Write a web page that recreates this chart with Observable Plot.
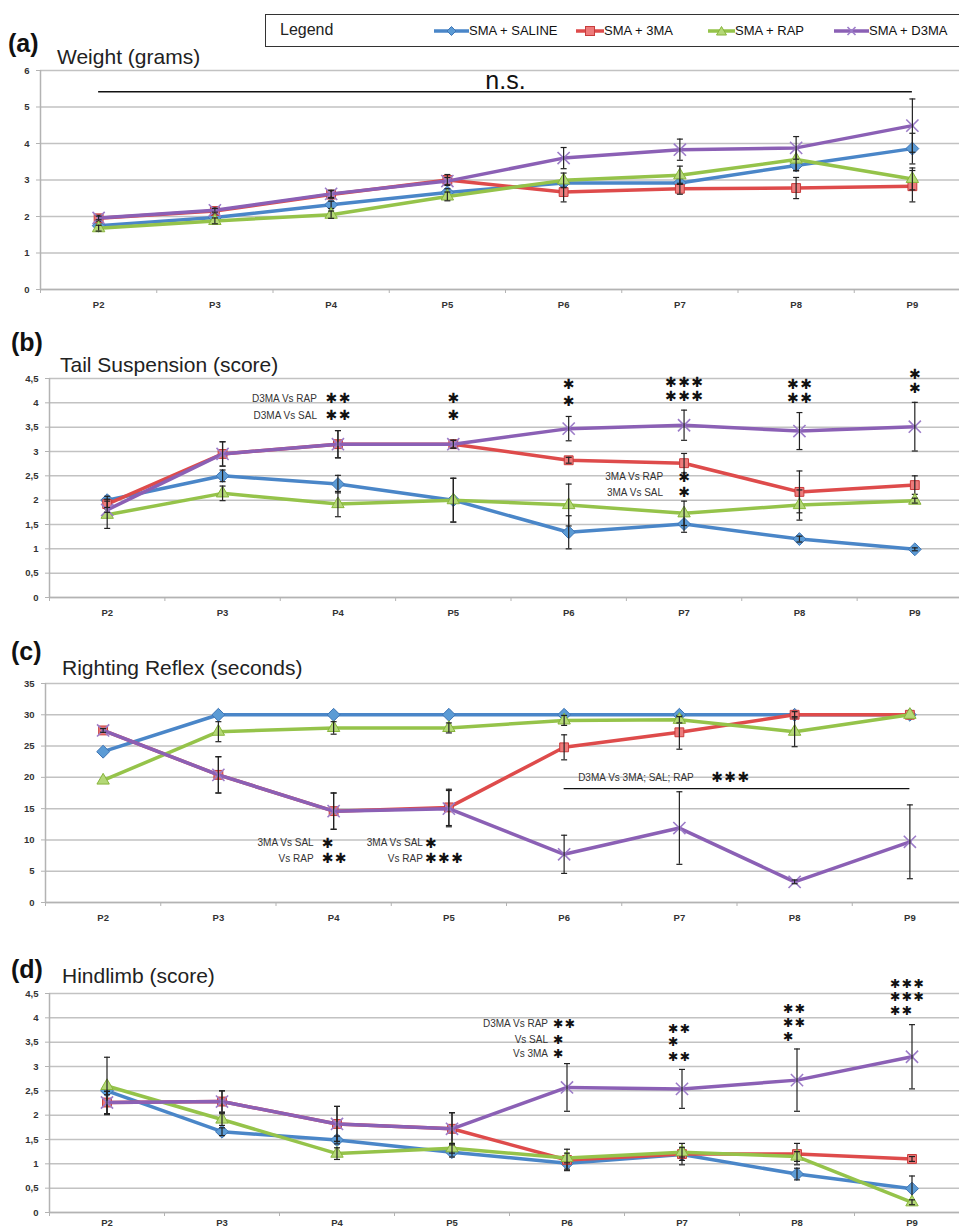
<!DOCTYPE html>
<html><head><meta charset="utf-8">
<script src="https://cdn.jsdelivr.net/npm/d3@7"></script>
<script src="https://cdn.jsdelivr.net/npm/@observablehq/plot@0.6"></script>
<style>
html,body{margin:0;padding:0;background:#fff;overflow:hidden}
#page{position:relative;width:959px;height:1232px;overflow:hidden;background:#fff;font-family:"Liberation Sans",Arial,sans-serif}
#page svg{max-width:none !important}
.pn{position:absolute;left:0}
.lab{position:absolute;font-weight:bold;font-size:25px;line-height:25px;color:#111;white-space:nowrap}
.ttl{position:absolute;font-size:21px;line-height:21px;color:#222;white-space:nowrap}
#legend{position:absolute;left:265px;top:14px;width:720px;height:33px;border:1.5px solid #333;box-sizing:border-box;background:#fff}
#legend .lt{position:absolute;left:14px;top:6px;font-size:16px;color:#222}
#legend .it{position:absolute;top:9px;font-size:13px;color:#111;white-space:nowrap;line-height:14px}
#legend svg{position:absolute;top:10px}
</style></head><body><div id="page"></div>
<script>
const days = ["P2","P3","P4","P5","P6","P7","P8","P9"];
const groupNames = ["SMA + SALINE","SMA + 3MA","SMA + RAP","SMA + D3MA"];

// (a) Weight (grams)
const weightSaline = [1.75,1.97,2.32,2.66,2.92,2.92,3.40,3.86];
const weight3MA    = [1.95,2.15,2.60,3.00,2.67,2.76,2.78,2.83];
const weightRAP    = [1.68,1.88,2.05,2.55,2.99,3.13,3.56,3.03];
const weightD3MA   = [1.96,2.17,2.62,2.97,3.60,3.83,3.88,4.49];
const weightErrSaline = [0.08,0.08,0.10,0.10,0.12,0.12,0.15,0.42];
const weightErr3MA    = [0.08,0.08,0.10,0.15,0.27,0.15,0.29,0.43];
const weightErrRAP    = [0.08,0.08,0.10,0.12,0.20,0.25,0.30,0.30];
const weightErrD3MA   = [0.05,0.05,0.10,0.10,0.29,0.29,0.31,0.73];
const weightNs = 5.42;

// (b) Tail Suspension (score)
const tailSaline = [2.00,2.50,2.33,2.00,1.34,1.51,1.20,0.99];
const tail3MA    = [1.92,2.95,3.15,3.15,2.82,2.76,2.17,2.31];
const tailRAP    = [1.70,2.14,1.92,2.00,1.90,1.73,1.90,1.99];
const tailD3MA   = [1.80,2.95,3.15,3.15,3.47,3.54,3.42,3.51];
const tailErrSaline = [0.08,0.12,0.18,0.45,0.34,0.17,0.06,0.03];
const tailErr3MA    = [0.10,0.25,0.28,0.08,0.06,0.20,0.43,0.19];
const tailErrRAP    = [0.28,0.15,0.26,0.45,0.43,0.25,0.31,0.05];
const tailErrD3MA   = [0.05,0.25,0.28,0.08,0.25,0.31,0.38,0.50];
const tailStars = [
  {day:"P4",y:4.08,t:"✱✱"},{day:"P4",y:3.73,t:"✱✱"},
  {day:"P5",y:4.08,t:"✱"},{day:"P5",y:3.73,t:"✱"},
  {day:"P6",y:4.38,t:"✱"},{day:"P6",y:4.03,t:"✱"},
  {day:"P7",y:4.42,t:"✱✱✱"},{day:"P7",y:4.13,t:"✱✱✱"},
  {day:"P8",y:4.38,t:"✱✱"},{day:"P8",y:4.08,t:"✱✱"},
  {day:"P9",y:4.59,t:"✱"},{day:"P9",y:4.29,t:"✱"},
  {day:"P7",y:2.47,t:"✱"},{day:"P7",y:2.15,t:"✱"}
];
const tailLabels = [
  {day:"P4",y:4.08,t:"D3MA Vs RAP"},{day:"P4",y:3.73,t:"D3MA Vs SAL"},
  {day:"P7",y:2.47,t:"3MA Vs RAP"},{day:"P7",y:2.15,t:"3MA Vs SAL"}
];

// (c) Righting Reflex (seconds)
const rightSaline = [24.1,30,30,30,30,30,30,30];
const right3MA    = [27.5,20.4,14.6,15.2,24.8,27.2,30,30];
const rightRAP    = [19.5,27.3,27.9,27.9,29.1,29.2,27.3,30];
const rightD3MA   = [27.5,20.4,14.6,15.0,7.7,11.9,3.3,9.7];
const rightErrSaline = [0,0,0,0,0,0,0,0];
const rightErr3MA    = [0.3,2.9,2.9,2.9,2.0,2.7,0.5,0];
const rightErrRAP    = [0,1.6,1.0,0.8,0.8,0.5,2.4,0];
const rightErrD3MA   = [0.3,2.9,2.9,2.9,3.05,5.8,0.3,5.9];
const rightP4Labels = [{day:"P4",y:9.5,t:"3MA Vs SAL"},{day:"P4",y:7,t:"Vs RAP"}];
const rightP4Stars  = [{day:"P4",y:9.5,t:"✱"},{day:"P4",y:7,t:"✱✱"}];
const rightP5Labels = [{day:"P5",y:9.5,t:"3MA Vs SAL"},{day:"P5",y:7,t:"Vs RAP"}];
const rightP5Stars  = [{day:"P5",y:9.5,t:"✱"},{day:"P5",y:7,t:"✱✱✱"}];
const rightSpan = {from:"P6",to:"P9",y:18.2,label:"D3MA Vs 3MA; SAL; RAP",labelY:20,stars:"✱✱✱"};

// (d) Hindlimb (score)
const hindSaline = [2.50,1.66,1.49,1.24,1.01,1.19,0.79,0.49];
const hind3MA    = [2.26,2.28,1.82,1.72,1.08,1.20,1.20,1.10];
const hindRAP    = [2.60,1.91,1.21,1.32,1.12,1.24,1.15,0.21];
const hindD3MA   = [2.26,2.28,1.82,1.72,2.57,2.54,2.72,3.20];
const hindErrSaline = [0.08,0.08,0.08,0.10,0.12,0.12,0.12,0.26];
const hindErr3MA    = [0.23,0.22,0.36,0.33,0.22,0.22,0.22,0.05];
const hindErrRAP    = [0.59,0.12,0.12,0.10,0.10,0.10,0.10,0.05];
const hindErrD3MA   = [0.23,0.22,0.36,0.33,0.49,0.40,0.64,0.66];
const hindLabels = [{day:"P6",y:3.87,t:"D3MA Vs RAP"},{day:"P6",y:3.55,t:"Vs SAL"},{day:"P6",y:3.26,t:"Vs 3MA"}];
const hindStars = [
  {day:"P6",y:3.87,t:"✱✱"},{day:"P6",y:3.55,t:"✱"},{day:"P6",y:3.26,t:"✱"},
  {day:"P7",y:3.77,t:"✱✱"},{day:"P7",y:3.50,t:"✱"},{day:"P7",y:3.20,t:"✱✱"},
  {day:"P8",y:4.18,t:"✱✱"},{day:"P8",y:3.90,t:"✱✱"},{day:"P8",y:3.61,t:"✱"}
];
const hindStarsP9 = [{day:"P9",y:4.69,t:"✱✱✱"},{day:"P9",y:4.42,t:"✱✱✱"},{day:"P9",y:4.15,t:"✱✱"}];

// styles
const lineColors = ["#4a86c8","#de4b4b","#95c34a","#8b60b5"];
const markFill = ["#5b9bd5","#ee7b7b","#b4d877","none"];
const markStroke = ["#3f75b5","#c83c3c","#88b53c","#9c7cc8"];
const markSymbol = ["diamond2","square","triangle","times"];
const markR = [5.8,5,4.6,5.6];

const idx = d => days.indexOf(d);
const capSymbol = {draw(ctx, size){ const r = Math.sqrt(size/Math.PI); ctx.moveTo(-r,0); ctx.lineTo(r,0); }};
const commaFmt = d => String(d).replace(".", ",");
const star = s => s.split("").join("\u200A");

function panel({top, left, width, yMax, yStep, fmt, series, errs, extra, mb, xPad}) {
  const mt = 10, ph = 219;
  const marginBottom = mb ?? 28;
  const yTicks = d3.range(0, yMax + 1e-9, yStep);
  const marks = [
    Plot.gridY(yTicks, {stroke:"#c2c2c2", strokeOpacity:1, strokeWidth:1.5}),
    Plot.ruleX([-0.5], {stroke:"#b3b3b3", strokeWidth:1.5}),
    Plot.ruleY([0], {stroke:"#b3b3b3", strokeWidth:1.5}),
    Plot.axisY(yTicks, {label:null, tickSize:4, tickPadding:7, tickFormat: fmt, stroke:"#b3b3b3", fill:"#333", fontWeight:"bold", fontSize:9.5}),
    Plot.axisX(d3.range(days.length), {label:null, tickSize:0, tickPadding: xPad ?? 12, tickFormat: i => days[i], fill:"#333", fontWeight:"bold", fontSize:9.5}),
    Plot.axisX(d3.range(-0.5, days.length, 1), {label:null, tickSize:4, tickFormat: () => "", stroke:"#b3b3b3"})
  ];
  series.forEach((vals, k) => {
    const rows = vals.map((v, i) => ({i, v, e: errs[k][i]}));
    const er = rows.filter(d => d.e > 0);
    marks.push(Plot.line(rows, {x:"i", y:"v", stroke: lineColors[k], strokeWidth:3.5, strokeLinejoin:"round"}));
    marks.push(Plot.dot(rows, {x:"i", y:"v", symbol: markSymbol[k], r: markR[k], fill: markFill[k], stroke: markStroke[k], strokeWidth: k === 3 ? 1.6 : 1}));
    marks.push(Plot.ruleX(er, {x:"i", y1: d => d.v - d.e, y2: d => d.v + d.e, stroke:"#222", strokeWidth:1.2}));
    marks.push(Plot.dot(er, {x:"i", y: d => d.v + d.e, symbol: capSymbol, r:3, stroke:"#222", strokeWidth:1.2}));
    marks.push(Plot.dot(er, {x:"i", y: d => d.v - d.e, symbol: capSymbol, r:3, stroke:"#222", strokeWidth:1.2}));
  });
  marks.push(...extra);
  const svg = Plot.plot({
    width, height: mt + ph + marginBottom,
    marginLeft: left, marginRight: 0, marginTop: mt, marginBottom,
    x: {domain: [-0.5, days.length - 0.5], axis: null, label: null},
    y: {domain: [0, yMax], axis: null, label: null},
    style: {fontFamily: "'Liberation Sans', Arial, sans-serif", fontSize: "9.5px", background: "transparent", maxWidth: "none", overflow: "visible"},
    marks
  });
  const wrap = document.createElement("div");
  wrap.className = "pn";
  wrap.style.top = (top - mt) + "px";
  wrap.appendChild(svg);
  return wrap;
}

const lab = {fontFamily: "'Liberation Sans', Arial, sans-serif", fontSize: 10, fill: "#333"};
const stf = {fontFamily: "'DejaVu Sans', sans-serif", fontSize: 14, fill: "#111"};
const stfD = {fontFamily: "'DejaVu Sans', sans-serif", fontSize: 12.5, fill: "#111"};

const page = document.getElementById("page");

function addText(cls, txt, left, baseline, fs) {
  const d = document.createElement("div");
  d.className = cls;
  d.textContent = txt;
  d.style.left = left + "px";
  d.style.top = (baseline - 0.846 * fs) + "px";
  page.appendChild(d);
}

// Panel (a)
page.appendChild(panel({
  top: 70, left: 40, width: 970, yMax: 6, yStep: 1, fmt: d => String(d),
  series: [weightSaline, weight3MA, weightRAP, weightD3MA],
  errs: [weightErrSaline, weightErr3MA, weightErrRAP, weightErrD3MA],
  extra: [
    Plot.ruleY([weightNs], {x1: idx("P2"), x2: idx("P9"), stroke:"#111", strokeWidth:1.5}),
    Plot.text(["n.s."], {x: (idx("P5") + idx("P6")) / 2, y: weightNs, text: d => d, lineAnchor:"bottom", dy:-3, fontSize:25, fill:"#111", fontFamily:"'Liberation Sans', Arial, sans-serif"})
  ]
}));

// Panel (b)
page.appendChild(panel({
  top: 377.7, left: 49, width: 972, yMax: 4.5, yStep: 0.5, fmt: commaFmt,
  series: [tailSaline, tail3MA, tailRAP, tailD3MA],
  errs: [tailErrSaline, tailErr3MA, tailErrRAP, tailErrD3MA],
  extra: [
    Plot.text(tailLabels, {x: d => idx(d.day), y:"y", text:"t", textAnchor:"end", dx:-21, ...lab}),
    Plot.text(tailStars, {x: d => idx(d.day), y:"y", text: d => star(d.t), ...stf})
  ]
}));

// Panel (c)
page.appendChild(panel({
  top: 682.7, left: 45, width: 967, yMax: 35, yStep: 5, fmt: d => String(d),
  series: [rightSaline, right3MA, rightRAP, rightD3MA],
  errs: [rightErrSaline, rightErr3MA, rightErrRAP, rightErrD3MA],
  extra: [
    Plot.text(rightP4Labels, {x: d => idx(d.day), y:"y", text:"t", textAnchor:"end", dx:-20, ...lab}),
    Plot.text(rightP4Stars, {x: d => idx(d.day), y:"y", text: d => star(d.t), textAnchor:"start", dx:-12, ...stf}),
    Plot.text(rightP5Labels, {x: d => idx(d.day), y:"y", text:"t", textAnchor:"end", dx:-26, ...lab}),
    Plot.text(rightP5Stars, {x: d => idx(d.day), y:"y", text: d => star(d.t), textAnchor:"start", dx:-24, ...stf}),
    Plot.ruleY([rightSpan], {y:"y", x1: d => idx(d.from), x2: d => idx(d.to), stroke:"#111", strokeWidth:1.4}),
    Plot.text([rightSpan], {x: d => idx(d.from), y:"labelY", text:"label", textAnchor:"start", dx:14, ...lab}),
    Plot.text([rightSpan], {x: d => idx(d.from), y:"labelY", text: d => star(d.stars), textAnchor:"start", dx:147, ...stf})
  ]
}));

// Panel (d)
page.appendChild(panel({
  top: 993.3, left: 49, width: 969, yMax: 4.5, yStep: 0.5, fmt: commaFmt, mb: 19, xPad: 7,
  series: [hindSaline, hind3MA, hindRAP, hindD3MA],
  errs: [hindErrSaline, hindErr3MA, hindErrRAP, hindErrD3MA],
  extra: [
    Plot.text(hindLabels, {x: d => idx(d.day), y:"y", text:"t", textAnchor:"end", dx:-19, ...lab}),
    Plot.text(hindStars, {x: d => idx(d.day), y:"y", text: d => star(d.t), textAnchor:"start", dx:-14, ...stfD}),
    Plot.text(hindStarsP9, {x: d => idx(d.day), y:"y", text: d => star(d.t), textAnchor:"start", dx:-22, ...stfD})
  ]
}));

// Titles
addText("lab", "(a)", 8, 52, 25);
addText("ttl", "Weight (grams)", 57, 64, 21);
addText("lab", "(b)", 11, 351, 25);
addText("ttl", "Tail Suspension (score)", 60, 371.5, 21);
addText("lab", "(c)", 11, 660, 25);
addText("ttl", "Righting Reflex (seconds)", 62, 675, 21);
addText("lab", "(d)", 11, 978, 25);
addText("ttl", "Hindlimb (score)", 62, 983, 21);

// Legend
const legend = document.createElement("div");
legend.id = "legend";
legend.innerHTML = '<div class="lt">Legend</div>';
const legendX = [433, 575, 707, 833];
const legendW = [35, 28, 27, 35];
groupNames.forEach((name, k) => {
  const x0 = legendX[k] - 265, w = legendW[k];
  const cx = w / 2, cy = 6;
  let m = "";
  if (k === 0) m = `<path d="M${cx},${cy-4.5}L${cx+4.5},${cy}L${cx},${cy+4.5}L${cx-4.5},${cy}Z" fill="${markFill[0]}" stroke="${markStroke[0]}"/>`;
  if (k === 1) m = `<rect x="${cx-4.5}" y="${cy-4.5}" width="9" height="9" fill="${markFill[1]}" stroke="${markStroke[1]}"/>`;
  if (k === 2) m = `<path d="M${cx},${cy-4.5}L${cx+5},${cy+4}L${cx-5},${cy+4}Z" fill="${markFill[2]}" stroke="${markStroke[2]}"/>`;
  if (k === 3) m = `<path d="M${cx-4},${cy-4}L${cx+4},${cy+4}M${cx+4},${cy-4}L${cx-4},${cy+4}" stroke="${markStroke[3]}" stroke-width="1.6"/>`;
  legend.insertAdjacentHTML("beforeend",
    `<svg style="left:${x0}px" width="${w}" height="12"><line x1="0" y1="${cy}" x2="${w}" y2="${cy}" stroke="${lineColors[k]}" stroke-width="3.5"/>${m}</svg>` +
    `<div class="it" style="left:${x0 + w}px">${name}</div>`);
});
page.appendChild(legend);
</script></body></html>
